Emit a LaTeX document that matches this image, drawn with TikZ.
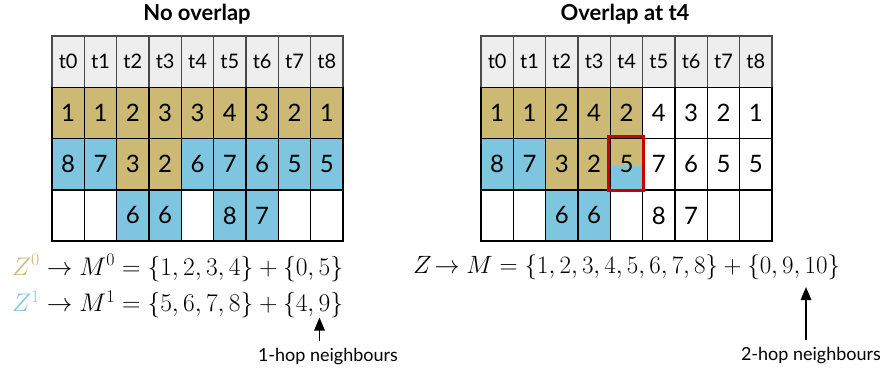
\RequirePackage{fix-cm}
\documentclass[tikz,border=0pt]{standalone}
\usepackage[no-math]{fontspec}
\setmainfont{Lato}
\usetikzlibrary{arrows.meta}
\definecolor{zT}{HTML}{CBB974}
\definecolor{zB}{HTML}{7EC6E0}
\definecolor{zH}{HTML}{EEEEEE}
\definecolor{zR}{HTML}{CC0000}
\definecolor{zG}{HTML}{4A4A4A}
\begin{document}
\begin{tikzpicture}[x=1pt,y=-1pt,
  hcell/.style={draw=zG, fill=zH, line width=1.3pt, minimum width=32.33pt, minimum height=51.25pt, inner sep=0pt, font=\fontsize{20}{24}\selectfont},
  bcell/.style={draw=black, line width=1.5pt, minimum width=32.33pt, minimum height=51.25pt, inner sep=0pt, font=\fontsize{24}{28}\selectfont},
  title/.style={font=\bfseries\fontsize{22}{26}\selectfont, inner sep=0pt},
  formula/.style={font=\fontsize{25.5}{30}\selectfont, inner sep=0pt},
  hop/.style={font=\fontsize{18}{21}\selectfont, inner sep=0pt},
  arr/.style={line width=1.5pt, -{Triangle[width=10.5pt,length=13pt]}},
  split/.style={path picture={\fill[zB] (path picture bounding box.south west) rectangle ([yshift=-1.5pt]path picture bounding box.east);}}
]
\useasboundingbox (0,0) rectangle (882,376);
% titles
\node[title] (tl) at (197,14) {No overlap};
\node[title] (tr) at (625,14) {Overlap at t4};
% ===== left table =====
\foreach \lab [count=\i from 0] in {t0,t1,t2,t3,t4,t5,t6,t7,t8}
  \node[hcell] (L-h-\i) at ({52+(\i+0.5)*32.33}, 61.6) {\lab};
\foreach \v/\f [count=\i from 0] in {1/zT,1/zT,2/zT,3/zT,3/zT,4/zT,3/zT,2/zT,1/zT}
  \node[bcell, fill=\f] (L-1-\i) at ({52+(\i+0.5)*32.33}, 112.9) {\v};
\foreach \v/\f [count=\i from 0] in {8/zB,7/zB,3/zT,2/zT,6/zB,7/zB,6/zB,5/zB,5/zB}
  \node[bcell, fill=\f] (L-2-\i) at ({52+(\i+0.5)*32.33}, 164.1) {\v};
\foreach \v/\f [count=\i from 0] in {/white,/white,6/zB,6/zB,/white,8/zB,7/zB,/white,/white}
  \node[bcell, fill=\f] (L-3-\i) at ({52+(\i+0.5)*32.33}, 215.4) {\v};
% ===== right table =====
\foreach \lab [count=\i from 0] in {t0,t1,t2,t3,t4,t5,t6,t7,t8}
  \node[hcell] (R-h-\i) at ({481+(\i+0.5)*32.33}, 61.6) {\lab};
\foreach \v/\f [count=\i from 0] in {1/zT,1/zT,2/zT,4/zT,2/zT,4/white,3/white,2/white,1/white}
  \node[bcell, fill=\f] (R-1-\i) at ({481+(\i+0.5)*32.33}, 112.9) {\v};
\foreach \v/\f [count=\i from 0] in {8/zB,7/zB,3/zT,2/zT}
  \node[bcell, fill=\f] (R-2-\i) at ({481+(\i+0.5)*32.33}, 164.1) {\v};
\node[bcell, fill=zT, split] (R-2-4) at ({481+4.5*32.33}, 164.1) {5};
\foreach \v/\f [count=\i from 5] in {7/white,6/white,5/white,5/white}
  \node[bcell, fill=\f] (R-2-\i) at ({481+(\i+0.5)*32.33}, 164.1) {\v};
\foreach \v/\f [count=\i from 0] in {/white,/white,6/zB,6/zB,/white,8/white,7/white,/white,/white}
  \node[bcell, fill=\f] (R-3-\i) at ({481+(\i+0.5)*32.33}, 215.4) {\v};
\draw[zR, line width=3pt] ([xshift=-1.5pt,yshift=1.5pt]R-2-4.north west) rectangle ([xshift=0.3pt,yshift=-0.3pt]R-2-4.south east);
% ===== formulas =====
\node[formula, anchor=base west] (f0) at (12,275) {$\textcolor{zT}{Z^0}\rightarrow M^0=\{1,2,3,4\}+\{0,5\}$};
\node[formula, anchor=base west] (f1) at (12,311.5) {$\textcolor{zB}{Z^1}\rightarrow M^1=\{5,6,7,8\}+\{4,9\}$};
\node[formula, anchor=base west, font=\fontsize{25}{30}\selectfont] (f2) at (413,273) {$Z\!\rightarrow M=\{1,2,3,4,5,6,7,8\}+\{0,9,10\}$};
% ===== labels and arrows =====
\node[hop] (h1) at (328,357) {1-hop neighbours};
\node[hop] (h2) at (811,356) {2-hop neighbours};
\coordinate (a1s) at (319.5,341);
\coordinate (a1e) at (319.5,317.5);
\coordinate (a2s) at (806,340);
\coordinate (a2e) at (806,287);
\draw[arr] (a1s) -- (a1e);
\draw[arr] (a2s) -- (a2e);
\end{tikzpicture}
\end{document}
